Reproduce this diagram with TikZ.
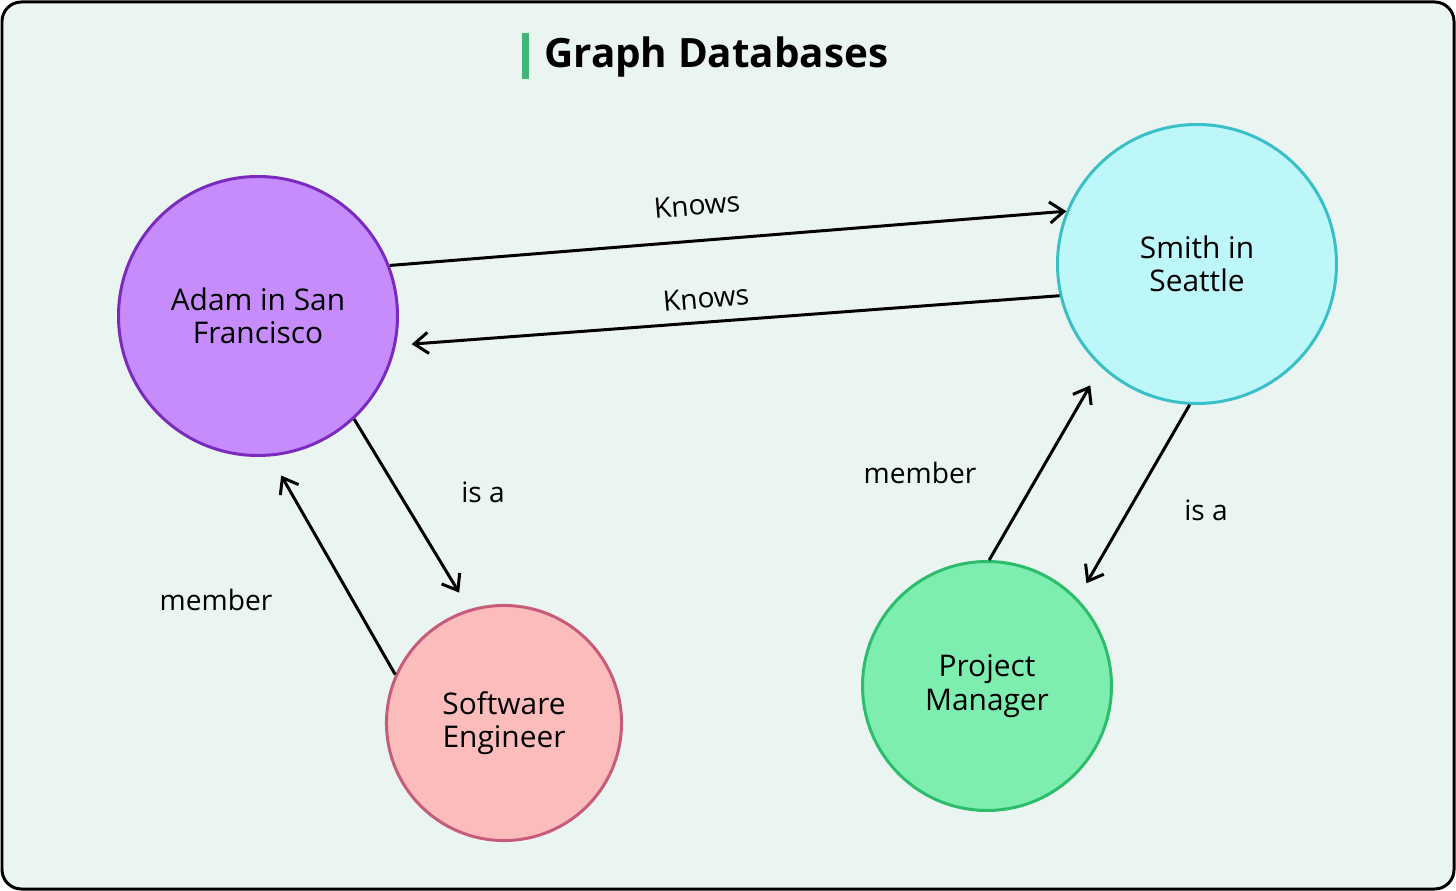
\documentclass[tikz,border=0pt]{standalone}
\usepackage{fontspec}
\setmainfont{Open Sans}
\usetikzlibrary{arrows.meta}
\definecolor{bgc}{HTML}{EAF4F0}
\definecolor{adamf}{HTML}{C68CFC}
\definecolor{adamd}{HTML}{7A2BBE}
\definecolor{smithf}{HTML}{BEF7F9}
\definecolor{smithd}{HTML}{3ABFC8}
\definecolor{sef}{HTML}{FCBCBC}
\definecolor{sed}{HTML}{C65B7A}
\definecolor{pmf}{HTML}{7DEDB0}
\definecolor{pmd}{HTML}{2CBD6B}
\definecolor{barc}{HTML}{3DB87A}
\begin{document}
\begin{tikzpicture}[x=0.02cm,y=-0.02cm,
  ent/.style={circle,line width=1.7pt,align=center,font=\fontsize{17}{19}\selectfont,inner sep=0pt},
  rel/.style={line width=1.7pt,-{Straight Barb[length=8pt,width=12pt,line width=1.7pt]}},
  lab/.style={font=\fontsize{16}{19}\selectfont}]
\useasboundingbox (0,0) rectangle (1456,891);
\draw[line width=1.7pt,fill=bgc,rounded corners=11pt] (2,2) rectangle (1454,889);
\fill[barc] (522,33) rectangle (529,79);
\node[anchor=west,font=\bfseries\fontsize{23}{26}\selectfont] (title) at (538,57) {Graph Databases};
\node[ent,fill=adamf,draw=adamd,minimum size=158.8pt] (adam) at (258,316) {Adam in San\\Francisco};
\node[ent,fill=smithf,draw=smithd,minimum size=158.8pt] (smith) at (1197,264) {Smith in\\Seattle};
\node[ent,fill=sef,draw=sed,minimum size=133.8pt] (se) at (504,723) {Software\\Engineer};
\node[ent,fill=pmf,draw=pmd,minimum size=141.7pt] (pm) at (987,686) {Project\\Manager};
\draw[rel] (adam.21.5) -- (smith.158.5);
\draw[rel,shorten >=9pt] (smith.193) -- (adam.-12.6);
\draw[rel,shorten >=11pt] (adam.-47) -- (se.107);
\draw[rel,shorten >=12.5pt] (se.156) -- (adam.-85);
\draw[rel,shorten >=12pt] (pm.89) -- (smith.227);
\draw[rel,shorten >=10pt] (smith.-93) -- (pm.44);
\node[lab,rotate=5] (k1) at (697,205) {Knows};
\node[lab,rotate=5] (k2) at (706,298) {Knows};
\node[lab] (i1) at (483,492) {is a};
\node[lab] (m1) at (216,600) {member};
\node[lab] (m2) at (920,473) {member};
\node[lab] (i2) at (1206,510) {is a};
\end{tikzpicture}
\end{document}
